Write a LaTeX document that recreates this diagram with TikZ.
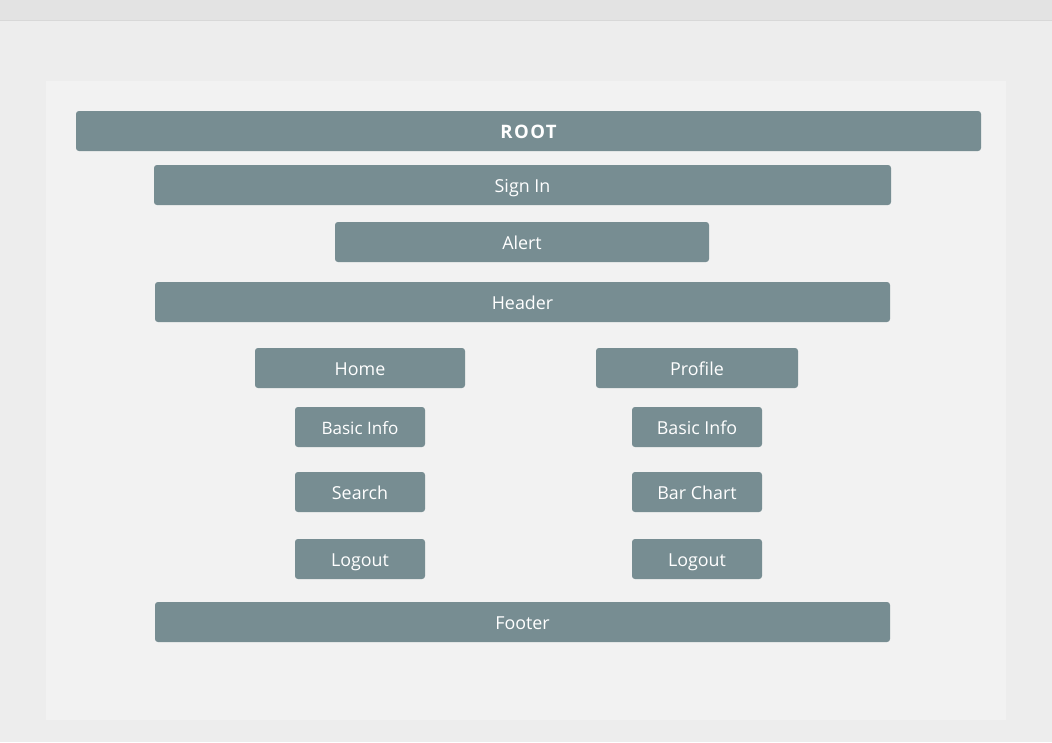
\documentclass[tikz,border=0pt]{standalone}
\usepackage{fontspec}
\setmainfont{Open Sans}
\newfontfamily\rootfont[LetterSpace=8]{Open Sans}
\definecolor{topbar}{HTML}{E3E3E3}
\definecolor{topline}{HTML}{D8D8D8}
\definecolor{bgc}{HTML}{EDEDED}
\definecolor{panel}{HTML}{F2F2F2}
\definecolor{boxc}{HTML}{778D92}
\begin{document}
\begin{tikzpicture}[x=0.75pt,y=-0.75pt,
  box/.style={fill=boxc, draw=none, rounded corners=2.2pt, text=white, inner sep=0pt,
    minimum height=30pt, text height=12pt, text depth=1.4pt, font=\fontsize{13.4}{15}\selectfont}]
\fill[bgc] (0,0) rectangle (1052,742);
\useasboundingbox (0,0) rectangle (1052,742);
\fill[topbar] (0,0) rectangle (1052,20);
\draw[topline, line width=0.75pt] (0,20.5) -- (1052,20.5);
\fill[panel] (46,81) rectangle (1006,720);

\node[box, minimum width=678.75pt, text depth=1.4pt, font=\rootfont\bfseries\fontsize{13.9}{15}\selectfont] (root) at (528.5,131) {ROOT};
\node[box, minimum width=552.75pt] (signin) at (522.5,185) {Sign In};
\node[box, minimum width=280.5pt] (alert) at (522,242) {Alert};
\node[box, minimum width=551.25pt] (header) at (522.5,302) {Header};
\node[box, minimum width=157.5pt] (home) at (360,368) {Home};
\node[box, minimum width=151.5pt] (profile) at (697,368) {Profile};
\node[box, minimum width=97.5pt, font=\fontsize{12.8}{15}\selectfont] (basicl) at (360,427) {Basic Info};
\node[box, minimum width=97.5pt] (basicr) at (697,427) {Basic Info};
\node[box, minimum width=97.5pt] (search) at (360,492) {Search};
\node[box, minimum width=97.5pt] (barchart) at (697,492) {Bar Chart};
\node[box, minimum width=97.5pt] (logoutl) at (360,559) {Logout};
\node[box, minimum width=97.5pt] (logoutr) at (697,559) {Logout};
\node[box, minimum width=551.25pt] (footer) at (522.5,622) {Footer};
\end{tikzpicture}
\end{document}
